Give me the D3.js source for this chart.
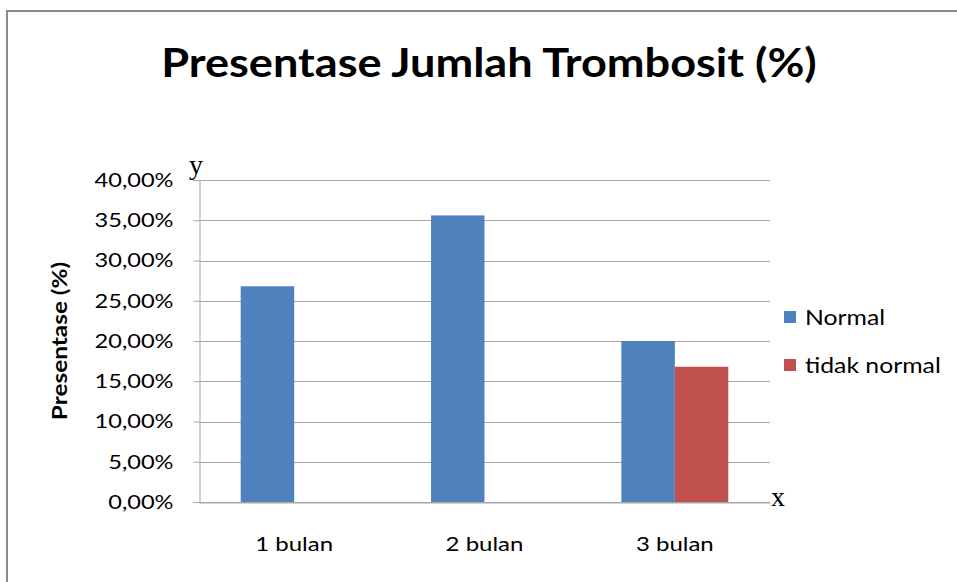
<!DOCTYPE html>
<html>
<head>
<meta charset="utf-8">
<script src="https://cdn.jsdelivr.net/npm/d3@7"></script>
<style>
  body { margin: 0; background: #fff; }
  svg { display: block; font-family: Lato, "Open Sans", sans-serif; }
</style>
</head>
<body>
<svg id="chart" width="957" height="582"></svg>
<script>
// data
const categories = ['1 bulan', '2 bulan', '3 bulan'];
const seriesNames = ['Normal', 'tidak normal'];
const normalValues = [26.8, 35.6, 20.0];
const tidakNormalValues = [null, null, 16.8];
const yTicks = [0, 5, 10, 15, 20, 25, 30, 35, 40];

const colors = ['#4F81BD', '#C0504D'];

const svg = d3.select('#chart');

// text in the source is a bit wider than Lato, so stretch it sideways
function addText(parent, x, y, str, sx, rotate) {
  const g = parent.append('g')
    .attr('transform', `translate(${x}, ${y})${rotate ? ' rotate(' + rotate + ')' : ''} scale(${sx}, 1)`);
  return g.append('text').text(str);
}

// outer frame (runs off the right and bottom edges)
svg.append('rect')
  .attr('x', 7)
  .attr('y', 11)
  .attr('width', 1000)
  .attr('height', 700)
  .attr('fill', 'none')
  .attr('stroke', '#8c8c8c')
  .attr('stroke-width', 2);

const margin = { left: 199, right: 770, top: 180, bottom: 502 };

const x0 = d3.scaleBand()
  .domain(categories)
  .range([margin.left, margin.right])
  .padding(0);

const x1 = d3.scaleBand()
  .domain(seriesNames)
  .range([0, x0.bandwidth()])
  .paddingInner(0)
  .paddingOuter(0.78);

const y = d3.scaleLinear()
  .domain([0, 40])
  .range([margin.bottom, margin.top]);

// gridlines
svg.append('g')
  .selectAll('line')
  .data(yTicks)
  .enter()
  .append('line')
  .attr('x1', margin.left)
  .attr('x2', margin.right)
  .attr('y1', d => Math.round(y(d)) + 0.5)
  .attr('y2', d => Math.round(y(d)) + 0.5)
  .attr('stroke', '#a6a6a6')
  .attr('stroke-width', 1);

// y axis
const tickSx = 1.18;
const yAxis = svg.append('g')
  .attr('transform', `translate(${margin.left + 0.5}, 0)`)
  .call(d3.axisLeft(y)
    .tickValues(yTicks)
    .tickSize(6)
    .tickFormat(d => d3.format('.2f')(d).replace('.', ',') + '%'));

yAxis.select('.domain').attr('stroke', '#a6a6a6');
yAxis.selectAll('.tick line').attr('stroke', '#a6a6a6');
yAxis.selectAll('.tick text')
  .attr('x', -26 / tickSx)
  .attr('transform', `scale(${tickSx}, 1)`)
  .style('font-size', '20px')
  .style('font-family', 'Lato, sans-serif')
  .attr('fill', '#000');

// bars
const rows = categories.map((c, i) => ({
  category: c,
  values: [normalValues[i], tidakNormalValues[i]]
}));

const groups = svg.append('g')
  .selectAll('g')
  .data(rows)
  .enter()
  .append('g')
  .attr('transform', d => `translate(${x0(d.category)}, 0)`);

groups.selectAll('rect')
  .data(d => d.values.map((v, j) => ({ name: seriesNames[j], value: v, j })).filter(d => d.value != null))
  .enter()
  .append('rect')
  .attr('x', d => x1(d.name))
  .attr('y', d => y(d.value))
  .attr('width', x1.bandwidth())
  .attr('height', d => y(0) - y(d.value))
  .attr('fill', d => colors[d.j]);

// x axis
const catSx = 1.2;
const xAxis = svg.append('g')
  .attr('transform', `translate(0, ${margin.bottom + 0.5})`)
  .call(d3.axisBottom(x0).tickSize(0).tickPadding(34));

xAxis.select('.domain').attr('stroke', '#a6a6a6');
xAxis.selectAll('.tick text')
  .attr('transform', `scale(${catSx}, 1)`)
  .style('font-size', '20px')
  .style('font-family', 'Lato, sans-serif')
  .attr('fill', '#000');

// title
addText(svg, 489, 77, 'Presentase Jumlah Trombosit (%)', 1.1)
  .attr('text-anchor', 'middle')
  .style('font-size', '41px')
  .style('font-weight', 'bold');

// y axis title
addText(svg, 67, (margin.top + margin.bottom) / 2, 'Presentase (%)', 1.22, -90)
  .attr('text-anchor', 'middle')
  .style('font-size', '20px')
  .style('font-weight', 'bold');

// axis letters
svg.append('text')
  .attr('x', 189)
  .attr('y', 174)
  .style('font-family', '"Liberation Serif", "DejaVu Serif", serif')
  .style('font-size', '28px')
  .text('y');

svg.append('text')
  .attr('x', 771)
  .attr('y', 506)
  .style('font-family', '"Liberation Serif", "DejaVu Serif", serif')
  .style('font-size', '28px')
  .text('x');

// legend
const legend = svg.append('g')
  .attr('transform', 'translate(784, 311)');

seriesNames.forEach((name, i) => {
  legend.append('rect')
    .attr('x', 0)
    .attr('y', i * 48)
    .attr('width', 12)
    .attr('height', 12)
    .attr('fill', colors[i]);

  addText(legend, 21, i * 48 + 14, name, 1.18)
    .style('font-size', '21px');
});
</script>
</body>
</html>
